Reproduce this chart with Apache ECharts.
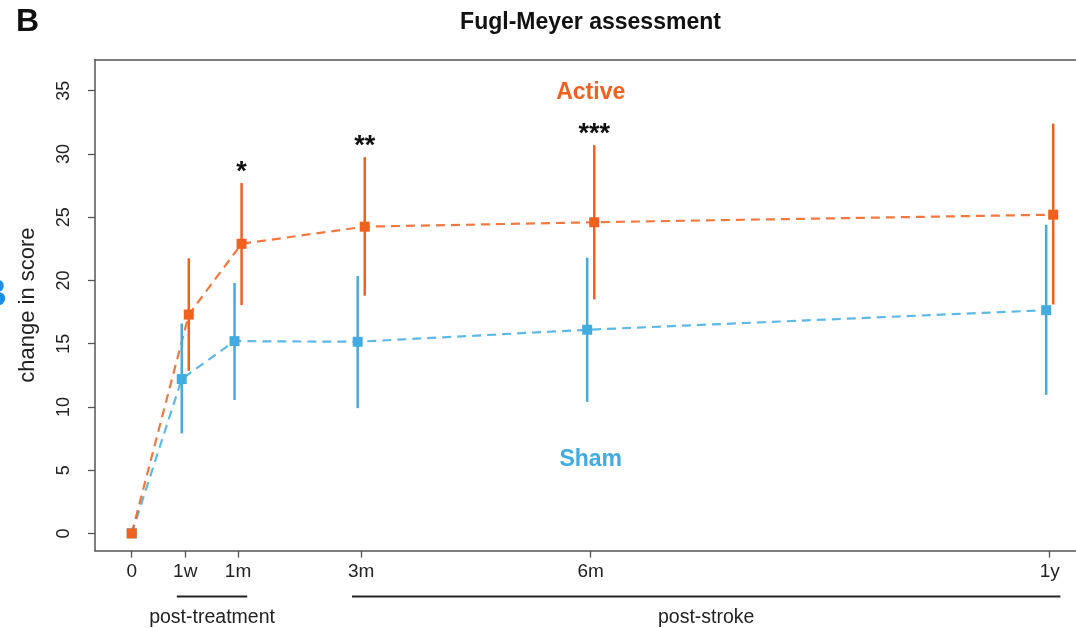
<!DOCTYPE html>
<html><head><meta charset="utf-8">
<script src="https://cdn.jsdelivr.net/npm/echarts@6/dist/echarts.min.js"></script>
<style>html,body{margin:0;padding:0;background:#fff}#c{width:1076px;height:628px}</style>
</head><body><div id="c"></div>
<script>
// ---- data ----
const timeLabels = ['0', '1w', '1m', '3m', '6m', '1y'];
const timePositions = [0, 0.7, 1.39, 3, 6, 12];
const activeMean = [0, 17.3, 22.9, 24.25, 24.6, 25.2];
const activeLow = [0, 12.85, 18.05, 18.8, 18.5, 18.1];
const activeHigh = [0, 21.75, 27.7, 29.75, 30.7, 32.4];
const shamMean = [0, 12.2, 15.2, 15.15, 16.1, 17.65];
const shamLow = [0, 7.9, 10.55, 9.9, 10.4, 10.95];
const shamHigh = [0, 16.6, 19.8, 20.35, 21.8, 24.4];
const significance = ['', '', '*', '**', '***', ''];
const yTicks = [0, 5, 10, 15, 20, 25, 30, 35];
const groupNames = ['Active', 'Sham'];
const bracketLabels = ['post-treatment', 'post-stroke'];
const bracketStart = [0.59, 2.88];
const bracketEnd = [1.51, 12.14];

// ---- styling / layout ----
const ORANGE = '#F0601F';
const BLUE = '#42ABE0';
const AXIS = '#555';
const FONT = 'Liberation Sans, Arial, Helvetica, sans-serif';
const DODGE = 0.046;
const xAt = (i, sign) => timePositions[i] + (i > 0 ? sign * DODGE : 0);

function lineSeries(name, color, mean, sign) {
  return {
    type: 'line', name, z: 2, silent: true, showSymbol: false,
    data: mean.map((v, i) => [xAt(i, sign), v]),
    lineStyle: { color, width: 2.2, type: [9, 6], opacity: 0.85 }
  };
}
function errSeries(name, color, lo, hi, sign) {
  return {
    type: 'custom', name, z: 3, silent: true, clip: false,
    data: lo.map((l, i) => [xAt(i, sign), l, hi[i]]),
    encode: { x: 0, y: [1, 2] },
    renderItem(params, api) {
      const x = api.value(0), l = api.value(1), h = api.value(2);
      if (h === l) return null;
      const p1 = api.coord([x, l]), p2 = api.coord([x, h]);
      return { type: 'line', shape: { x1: p1[0], y1: p1[1], x2: p2[0], y2: p2[1] },
        style: { stroke: color, lineWidth: 2.5 } };
    }
  };
}
function markerSeries(name, color, mean, sign, z) {
  return {
    type: 'scatter', name, z, silent: true, symbol: 'rect', symbolSize: 10,
    data: mean.map((v, i) => [xAt(i, sign), v]),
    itemStyle: { color, opacity: 1 }
  };
}

const chart = echarts.init(document.getElementById('c'), null, { renderer: 'canvas' });
chart.setOption({
  animation: false,
  backgroundColor: '#fff',
  textStyle: { fontFamily: FONT },
  grid: { left: 95, top: 59.5, right: 0, bottom: 77.3, show: false, containLabel: false },
  xAxis: [{
    type: 'value', min: -0.48, max: 12.344,
    splitLine: { show: false }, axisLine: { show: true, onZero: false, lineStyle: { color: AXIS, width: 1.5 } },
    axisTick: { show: true, customValues: timePositions, length: 7, lineStyle: { color: AXIS, width: 1.3 } },
    axisLabel: {
      customValues: timePositions, margin: 12, fontSize: 19, color: '#222', fontFamily: FONT,
      formatter: v => {
        let best = 0;
        timePositions.forEach((p, i) => { if (Math.abs(p - v) < Math.abs(timePositions[best] - v)) best = i; });
        return timeLabels[best];
      }
    }
  }, {
    type: 'value', position: 'top', min: -0.48, max: 12.344,
    splitLine: { show: false }, axisLine: { show: true, onZero: false, lineStyle: { color: AXIS, width: 1.5 } },
    axisTick: { show: false }, axisLabel: { show: false }
  }],
  yAxis: {
    type: 'value', min: -1.37, max: 37.47,
    splitLine: { show: false }, axisLine: { show: true, onZero: false, lineStyle: { color: AXIS, width: 1.5 } },
    axisTick: { show: true, customValues: yTicks, length: 7, lineStyle: { color: AXIS, width: 1.3 } },
    axisLabel: { customValues: yTicks, rotate: 90, margin: 22, fontSize: 18, color: '#222', fontFamily: FONT },
    name: 'change in score', nameLocation: 'middle', nameRotate: 90, nameGap: 56,
    nameTextStyle: { fontSize: 22, color: '#222', fontFamily: FONT }
  },
  graphic: [
    { type: 'text', x: 16, y: 22, style: { text: 'B', font: 'bold 32px ' + FONT, fill: '#111', align: 'left', verticalAlign: 'middle' } },
    { type: 'text', x: 590.5, y: 23, style: { text: 'Fugl-Meyer assessment', font: 'bold 23px ' + FONT, fill: '#111', align: 'center', verticalAlign: 'middle' } },
    { type: 'text', x: 7, y: 296, style: { text: 'B', font: 'bold 38px ' + FONT, fill: '#1E8FE8', align: 'right', verticalAlign: 'middle' } }
  ],
  series: [
    lineSeries('Sham line', BLUE, shamMean, -1),
    lineSeries('Active line', ORANGE, activeMean, 1),
    errSeries('Sham err', BLUE, shamLow, shamHigh, -1),
    errSeries('Active err', ORANGE, activeLow, activeHigh, 1),
    markerSeries('Sham', BLUE, shamMean, -1, 4),
    markerSeries('Active', ORANGE, activeMean, 1, 5),
    {
      type: 'scatter', name: 'stars', z: 6, silent: true, symbolSize: 0,
      itemStyle: { opacity: 1 },
      data: significance.map((s, i) => s ? { value: [xAt(i, 1), activeHigh[i]], star: s } : null).filter(Boolean),
      label: { show: true, position: 'top', distance: 0, offset: [0, 3], formatter: p => p.data.star,
        fontSize: 27, fontWeight: 'bold', color: '#111', fontFamily: FONT }
    },
    {
      type: 'scatter', name: 'group labels', z: 6, silent: true, symbolSize: 0,
      itemStyle: { opacity: 1 },
      data: [
        { value: [6, 35], name: groupNames[0], label: { color: ORANGE } },
        { value: [6, 6], name: groupNames[1], label: { color: BLUE } }
      ],
      label: { show: true, position: 'inside', offset: [0, 2], formatter: p => p.name, fontSize: 23, fontWeight: 'bold', fontFamily: FONT }
    },
    {
      type: 'custom', name: 'brackets', silent: true, clip: false, z: 6,
      data: bracketLabels.map((t, i) => [bracketStart[i], bracketEnd[i], i]),
      renderItem(params, api) {
        const s = api.value(0), e = api.value(1), i = api.value(2);
        const a = api.coord([s, -5]), b = api.coord([e, -5]);
        const t = api.coord([(s + e) / 2, -6.65]);
        return { type: 'group', children: [
          { type: 'line', shape: { x1: a[0], y1: a[1], x2: b[0], y2: b[1] }, style: { stroke: '#222', lineWidth: 2 } },
          { type: 'text', x: t[0], y: t[1], style: { text: bracketLabels[i], fontSize: 19.5, fontFamily: FONT, fill: '#222', align: 'center', verticalAlign: 'middle' } }
        ] };
      }
    }
  ]
});
</script></body></html>
